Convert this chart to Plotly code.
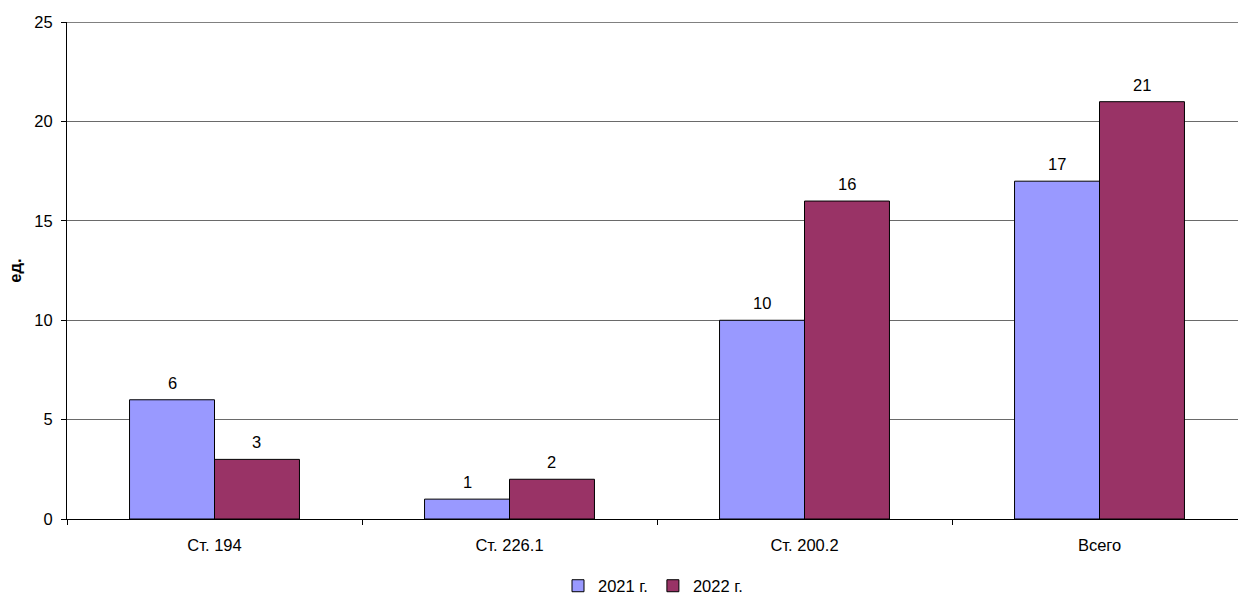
import plotly.graph_objects as go

categories = ["Ст. 194", "Ст. 226.1", "Ст. 200.2", "Всего"]
series_names = ["2021 г.", "2022 г."]
values_2021 = [6, 1, 10, 17]
values_2022 = [3, 2, 16, 21]
y_ticks = [0, 5, 10, 15, 20, 25]
colors = ["#9999FF", "#993366"]

FONT = "Liberation Sans, Arial"
FS = 16.5
BARGAP = 0.424
CAT_PX = 295.0
half_bar_px = CAT_PX * (1 - BARGAP) / 4.0
W, H = 1238, 594
L_M, T_M, B_M = 67, 22, 75
x_hi = -0.5 + (W - L_M) / CAT_PX

fig = go.Figure()
for name, vals, col in zip(series_names, [values_2021, values_2022], colors):
    fig.add_trace(go.Bar(
        x=categories, y=vals, name=name,
        marker=dict(color=col, line=dict(color="#000000", width=1)),
    ))

annotations = []
for si, vals in enumerate([values_2021, values_2022]):
    shift = -half_bar_px if si == 0 else half_bar_px
    for c, v in zip(categories, vals):
        annotations.append(dict(
            x=c, y=v, xref="x", yref="y", text=str(v), showarrow=False,
            xshift=shift, yshift=17, yanchor="middle",
            font=dict(family=FONT, size=FS, color="#000000"),
        ))

fig.update_layout(
    width=W, height=H,
    margin=dict(l=L_M, r=0, t=T_M, b=B_M),
    paper_bgcolor="white", plot_bgcolor="white",
    font=dict(family=FONT, size=FS, color="#000000"),
    barmode="group", bargap=BARGAP, bargroupgap=0,
    showlegend=True,
    legend=dict(orientation="h", xref="container", x=653 / W, xanchor="center",
                yref="container", y=8 / H, yanchor="middle",
                font=dict(size=FS), itemwidth=30, traceorder="normal"),
    annotations=annotations,
    shapes=[dict(type="line", xref="paper", yref="y", x0=0, x1=1,
                 y0=y_ticks[-1], y1=y_ticks[-1],
                 line=dict(color="#808080", width=1.5), layer="below")],
)
fig.update_xaxes(
    type="category", range=[-0.5, x_hi],
    showline=True, linecolor="#000000", linewidth=1,
    ticks="outside", tickson="boundaries", ticklen=5, tickcolor="#000000",
    showgrid=False, ticklabelstandoff=11, automargin=False,
)
fig.update_yaxes(
    range=[0, 25.01], tickvals=y_ticks,
    showline=True, linecolor="#000000", linewidth=1,
    ticks="outside", ticklen=5, tickcolor="#000000",
    showgrid=True, gridcolor="#6a6a6a", gridwidth=1,
    zeroline=False, ticklabelstandoff=5, automargin=False,
    title=dict(text="<b>ед.</b>", font=dict(size=FS), standoff=8),
)

fig.write_html(
    "out.html",
    config={"displayModeBar": False},
    post_script="document.body.style.margin='0';document.body.style.overflow='hidden';",
)
